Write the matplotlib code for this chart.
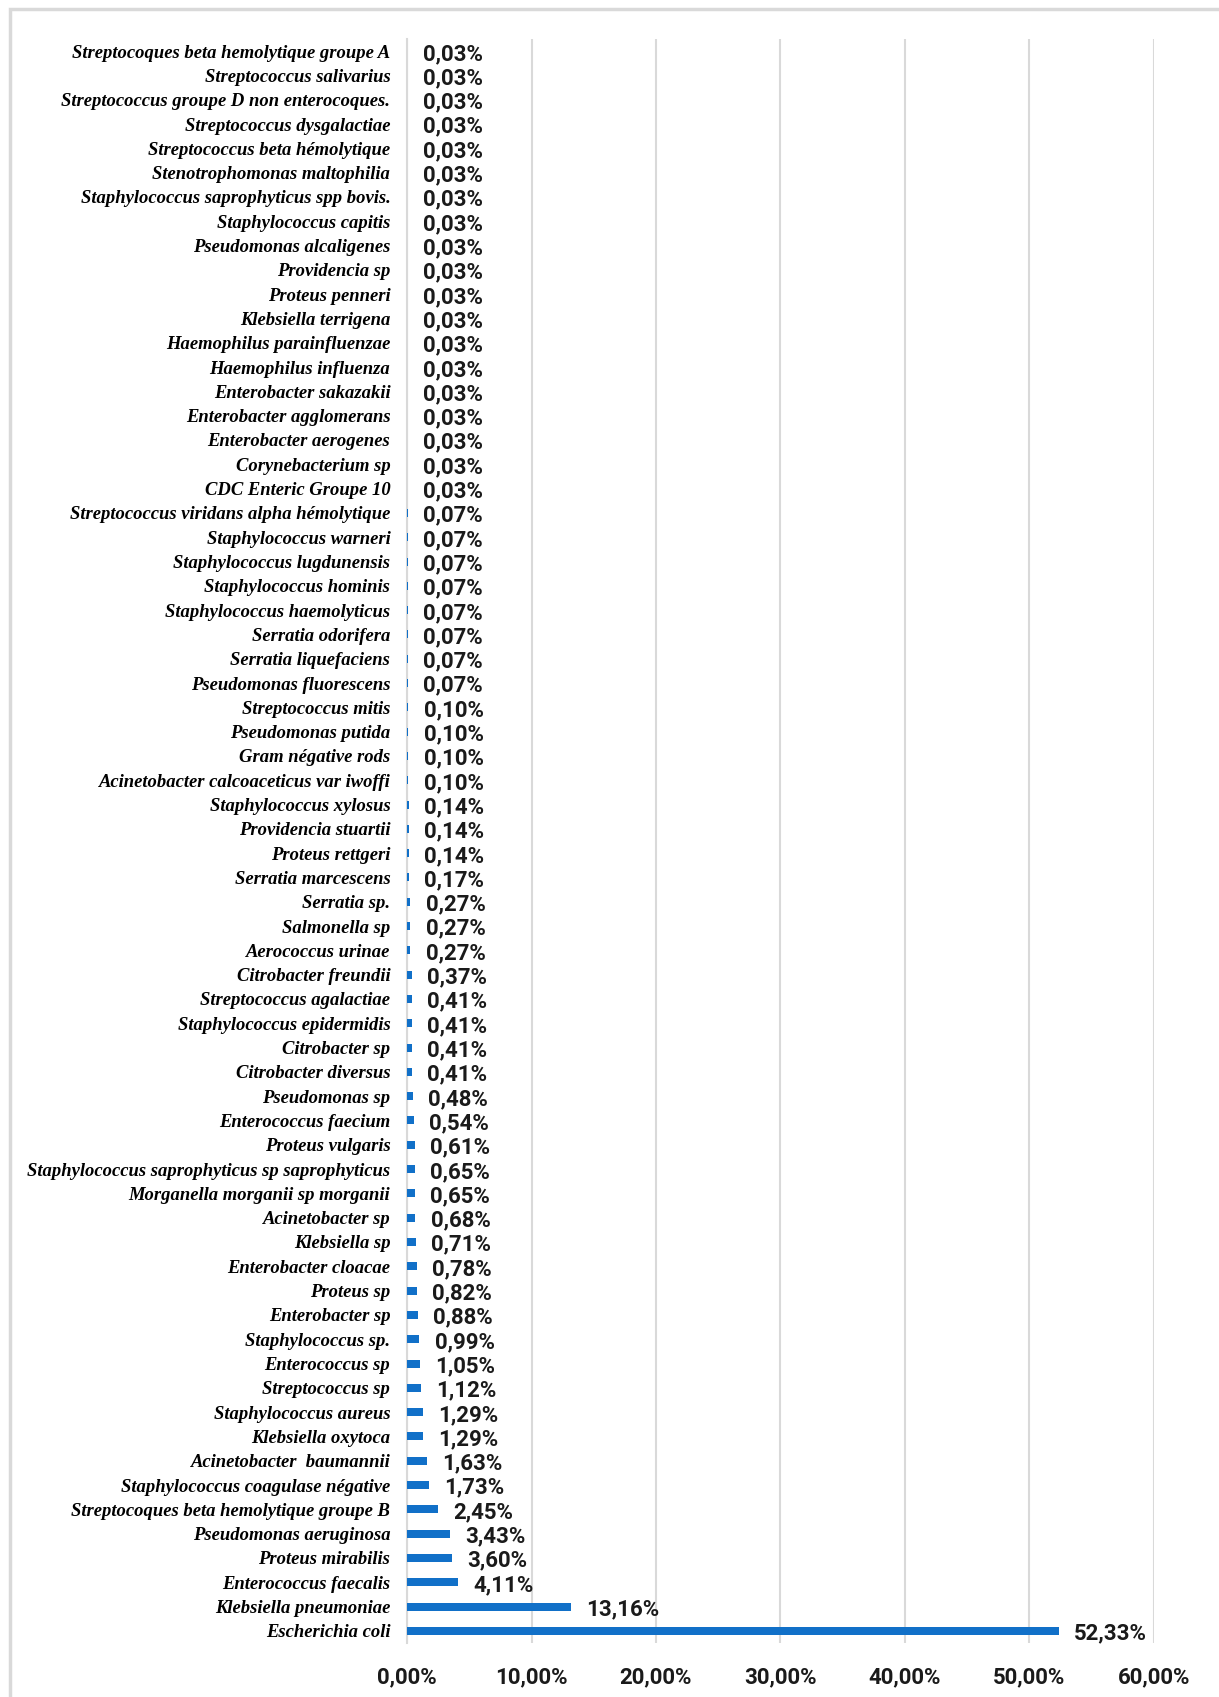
import matplotlib
matplotlib.use("Agg")
import matplotlib.pyplot as plt
from matplotlib.ticker import FuncFormatter
from matplotlib.patches import Rectangle

# bacteria, top to bottom as in the reference
SPECIES = [
    "Streptocoques beta hemolytique groupe A",
    "Streptococcus salivarius",
    "Streptococcus groupe D non enterocoques.",
    "Streptococcus dysgalactiae",
    "Streptococcus beta hémolytique",
    "Stenotrophomonas maltophilia",
    "Staphylococcus saprophyticus spp bovis.",
    "Staphylococcus capitis",
    "Pseudomonas alcaligenes",
    "Providencia sp",
    "Proteus penneri",
    "Klebsiella terrigena",
    "Haemophilus parainfluenzae",
    "Haemophilus influenza",
    "Enterobacter sakazakii",
    "Enterobacter agglomerans",
    "Enterobacter aerogenes",
    "Corynebacterium sp",
    "CDC Enteric Groupe 10",
    "Streptococcus viridans alpha hémolytique",
    "Staphylococcus warneri",
    "Staphylococcus lugdunensis",
    "Staphylococcus hominis",
    "Staphylococcus haemolyticus",
    "Serratia odorifera",
    "Serratia liquefaciens",
    "Pseudomonas fluorescens",
    "Streptococcus mitis",
    "Pseudomonas putida",
    "Gram négative rods",
    "Acinetobacter calcoaceticus var iwoffi",
    "Staphylococcus xylosus",
    "Providencia stuartii",
    "Proteus rettgeri",
    "Serratia marcescens",
    "Serratia sp.",
    "Salmonella sp",
    "Aerococcus urinae",
    "Citrobacter freundii",
    "Streptococcus agalactiae",
    "Staphylococcus epidermidis",
    "Citrobacter sp",
    "Citrobacter diversus",
    "Pseudomonas sp",
    "Enterococcus faecium",
    "Proteus vulgaris",
    "Staphylococcus saprophyticus sp saprophyticus",
    "Morganella morganii sp morganii",
    "Acinetobacter sp",
    "Klebsiella sp",
    "Enterobacter cloacae",
    "Proteus sp",
    "Enterobacter sp",
    "Staphylococcus sp.",
    "Enterococcus sp",
    "Streptococcus sp",
    "Staphylococcus aureus",
    "Klebsiella oxytoca",
    "Acinetobacter  baumannii",
    "Staphylococcus coagulase négative",
    "Streptocoques beta hemolytique groupe B",
    "Pseudomonas aeruginosa",
    "Proteus mirabilis",
    "Enterococcus faecalis",
    "Klebsiella pneumoniae",
    "Escherichia coli",
]

PERCENT = [
    0.03, 0.03, 0.03, 0.03, 0.03, 0.03, 0.03, 0.03, 0.03, 0.03,
    0.03, 0.03, 0.03, 0.03, 0.03, 0.03, 0.03, 0.03, 0.03,
    0.07, 0.07, 0.07, 0.07, 0.07, 0.07, 0.07, 0.07,
    0.10, 0.10, 0.10, 0.10,
    0.14, 0.14, 0.14,
    0.17,
    0.27, 0.27, 0.27,
    0.37,
    0.41, 0.41, 0.41, 0.41,
    0.48, 0.54, 0.61, 0.65, 0.65, 0.68, 0.71, 0.78, 0.82, 0.88, 0.99,
    1.05, 1.12, 1.29, 1.29, 1.63, 1.73, 2.45, 3.43, 3.60, 4.11,
    13.16, 52.33,
]

X_TICKS = [0, 10, 20, 30, 40, 50, 60]

BAR_COLOR = "#1170C8"
GRID_COLOR = "#D9D9D9"
NUM_FONT = ["Roboto", "DejaVu Sans"]
W, H = 1219, 1697


def fr_pct(v, _pos=None):
    return f"{v:.2f}%".replace(".", ",")


fig = plt.figure(figsize=(W / 100, H / 100), dpi=100)
ax = fig.add_axes([407 / W, 1 - 1643 / H, (1154 - 407) / W, (1643 - 39) / H])

# chart-area border like the excel frame
fig.patches.append(Rectangle((10 / W, -0.01), 1.0, 1 - 9 / H + 0.01,
                             transform=fig.transFigure, fill=False,
                             edgecolor=GRID_COLOR, linewidth=2.5))

y = list(range(len(SPECIES)))[::-1]
ax.barh(y, PERCENT, height=0.33, color=BAR_COLOR, zorder=3)

for yi, v in zip(y, PERCENT):
    ax.annotate(fr_pct(v), (v, yi), xytext=(11, -2), textcoords="offset points",
                ha="left", va="center", fontsize=16, fontweight="bold",
                family=NUM_FONT, color="#1a1a1a")

ax.set_xlim(0, 60)
ax.set_ylim(-0.5, len(SPECIES) - 0.5)
ax.set_xticks(X_TICKS)
ax.xaxis.set_major_formatter(FuncFormatter(fr_pct))
ax.set_yticks(y)
ax.set_yticklabels(SPECIES, family="Liberation Serif", style="italic",
                   fontweight="bold", fontsize=13.4)
for lab in ax.get_xticklabels():
    lab.set_family(NUM_FONT)
    lab.set_fontweight("bold")
    lab.set_fontsize(16)
    lab.set_color("#1a1a1a")

ax.tick_params(axis="both", length=0)
ax.tick_params(axis="y", pad=12)
ax.tick_params(axis="x", pad=17)
ax.grid(axis="x", color=GRID_COLOR, linewidth=1.5, zorder=0)
for side in ("top", "right", "bottom"):
    ax.spines[side].set_visible(False)
ax.spines["left"].set_color(GRID_COLOR)
ax.spines["left"].set_linewidth(1.5)

fig.savefig("out.png", dpi=100)
